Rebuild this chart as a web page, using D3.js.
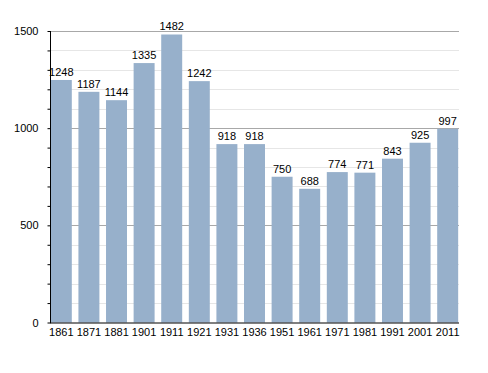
<!DOCTYPE html>
<html><head><meta charset="utf-8">
<script src="https://cdn.jsdelivr.net/npm/d3@7"></script>
<style>body{margin:0;background:#fff}svg{display:block}text{font-family:"Liberation Sans",Arial,sans-serif}</style>
</head><body>
<svg id="c" width="488" height="373"></svg>
<script>
const years = ["1861","1871","1881","1901","1911","1921","1931","1936","1951","1961","1971","1981","1991","2001","2011"];
const population = [1248,1187,1144,1335,1482,1242,918,918,750,688,774,771,843,925,997];
const majorTicks = [0,500,1000,1500];
const minorTicks = d3.range(0,1501,100);

const svg = d3.select("#c");
const pLeft = 50, pRight = 459, pTop = 31, pBottom = 322.5;
const x = d3.scaleBand().domain(years).range([pLeft, pRight]).paddingInner(0.24).paddingOuter(0.03);
const y = d3.scaleLinear().domain([0,1500]).range([pBottom, pTop]);

// minor gridlines
svg.append("g").selectAll("line").data(minorTicks.filter(v => v%500!==0)).join("line")
  .attr("x1", pLeft).attr("x2", pRight).attr("y1", d=>Math.round(y(d))+0.5).attr("y2", d=>Math.round(y(d))+0.5)
  .attr("stroke", "#e6e6e6").attr("stroke-width", 1);
// major gridlines
svg.append("g").selectAll("line").data(majorTicks.filter(v=>v>0)).join("line")
  .attr("x1", pLeft).attr("x2", pRight).attr("y1", d=>Math.round(y(d))+0.5).attr("y2", d=>Math.round(y(d))+0.5)
  .attr("stroke", "#a8a8a8").attr("stroke-width", 1);

// bars
svg.append("g").selectAll("rect").data(population).join("rect")
  .attr("x", (d,i)=>x(years[i])).attr("width", x.bandwidth())
  .attr("y", d=>y(d)).attr("height", d=>pBottom - y(d))
  .attr("fill", "#97b0cb");

// value labels
svg.append("g").selectAll("text").data(population).join("text")
  .attr("x", (d,i)=>x(years[i]) + x.bandwidth()/2).attr("y", d=>y(d)-4)
  .attr("text-anchor","middle").attr("font-size", 11).attr("fill","#000")
  .text(d=>d);

// y axis
const yAxis = d3.axisLeft(y).tickValues(minorTicks).tickSize(3).tickFormat(d => majorTicks.includes(d) ? d : "");
const gy = svg.append("g").attr("transform", `translate(${pLeft+0.5},0)`).call(yAxis);
gy.select(".domain").remove();
gy.selectAll(".tick line").attr("stroke","#000");
gy.selectAll(".tick text").attr("font-size", 11).attr("fill","#000").attr("x",-12).style("font-family",'"Liberation Sans",Arial,sans-serif');
svg.append("line").attr("x1", pLeft+0.5).attr("x2", pLeft+0.5).attr("y1", pTop).attr("y2", pBottom+0.5).attr("stroke","#000");

// x axis
const xAxis = d3.axisBottom(x).tickSize(0).tickPadding(6);
const gx = svg.append("g").attr("transform", `translate(0,${pBottom})`).call(xAxis);
gx.select(".domain").remove();
gx.selectAll(".tick text").attr("font-size", 11).attr("fill","#000").style("font-family",'"Liberation Sans",Arial,sans-serif');
svg.append("line").attr("x1", pLeft).attr("x2", pRight).attr("y1", pBottom+0.5).attr("y2", pBottom+0.5).attr("stroke","#000");
</script>
</body></html>
